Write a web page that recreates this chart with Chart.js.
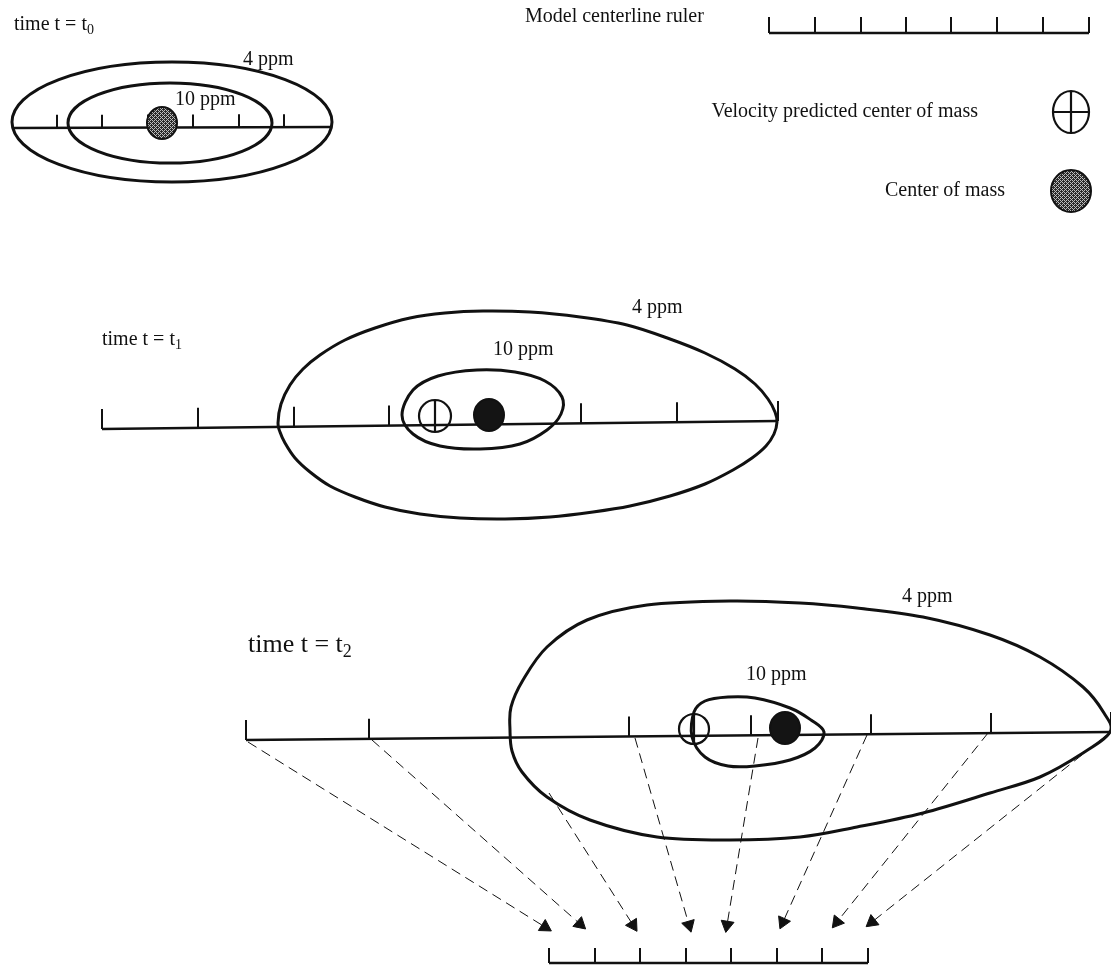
<!DOCTYPE html>
<html>
<head>
<meta charset="utf-8">
<title>Plume centerline and center of mass</title>
<script src="https://cdn.jsdelivr.net/npm/chart.js@4.4.1/dist/chart.umd.min.js"></script>
<style>
  html, body { margin: 0; padding: 0; background: #fff; }
  canvas { display: block; }
</style>
</head>
<body>
<canvas id="plume" width="1111" height="965"></canvas>
<script>
// ---- data (drawing units, y grows downward) ----

// centerline rulers: end points and tick positions along x
const legendLine = [[769, 33], [1089, 33]];
const legendTicks = [769, 815, 861, 906, 951, 997, 1043, 1089];
const t0Line = [[12, 128], [332, 127]];
const t0Ticks = [57, 102, 148, 193, 239, 284];
const t1Line = [[102, 429], [778, 421]];
const t1Ticks = [102, 198, 294, 389, 485, 581, 677, 778];
const t2Line = [[246, 740], [1111, 732]];
const t2Ticks = [246, 369, 510, 629, 751, 871, 991, 1111];
const baseLine = [[549, 963], [868, 963]];
const baseTicks = [549, 595, 640, 686, 731, 777, 822, 868];

// concentration contours
const t0Outer = { cx: 172, cy: 122, rx: 160, ry: 60 };
const t0Inner = { cx: 170, cy: 123, rx: 102, ry: 40 };
const t1Outer = [[278, 423], [281, 404], [290, 385], [303, 369], [320, 355], [345, 340],
  [375, 328], [410, 318], [445, 313], [483, 311], [530, 312], [580, 317], [627, 325],
  [670, 339], [705, 353], [735, 369], [755, 384], [768, 399], [775, 412], [777, 422],
  [774, 434], [766, 446], [752, 458], [733, 470], [705, 484], [670, 496], [630, 506],
  [593, 512], [550, 517], [505, 519], [460, 518], [420, 514], [385, 507], [355, 497],
  [330, 486], [310, 472], [295, 458], [285, 443], [280, 432]];
const t1Inner = [[402, 415], [413, 390], [438, 376], [477, 370], [515, 372], [545, 381],
  [562, 397], [561, 414], [547, 430], [520, 444], [480, 449], [440, 446], [413, 434]];
const t2Outer = [[510, 730], [511, 707], [523, 680], [547, 647], [587, 620], [647, 605],
  [730, 601], [800, 603], [857, 608], [923, 617], [990, 635], [1040, 657], [1083, 687],
  [1104, 713], [1110, 732], [1083, 753], [1040, 777], [990, 793], [923, 813], [857, 827],
  [800, 837], [730, 840], [657, 837], [590, 820], [547, 797], [522, 772], [512, 751]];
const t2Inner = [[692, 737], [694, 712], [705, 701], [728, 697], [755, 698], [790, 708],
  [811, 720], [824, 732], [815, 748], [790, 760], [755, 766], [728, 766], [705, 757]];

// centers of mass (filled) and velocity predicted centers (crossed)
const massCenters = [[162, 123], [489, 415], [785, 728], [1071, 191]];
const predictedCenters = [[435, 416], [694, 729], [1071, 112]];

// mapping arrows from the t2 centerline down to the model ruler
const arrowFrom = [[248, 742], [372, 740], [549, 793], [635, 738], [758, 738], [867, 735], [988, 733], [1107, 735]];
const arrowTo = [[545, 927], [580, 924], [633, 925], [689, 925], [727, 925], [783, 922], [837, 922], [872, 922]];

// ---- styling ----
const INK = '#111';
const SERIF = '"Liberation Serif", "Times New Roman", serif';

function pt(p) { return { x: p[0], y: p[1] }; }

function lineY(line, x) {
  const [a, b] = line;
  return a[1] + (b[1] - a[1]) * (x - a[0]) / (b[0] - a[0]);
}

// vertical tick segments, separated by gaps
function tickSegments(line, ticks, h) {
  const out = [];
  ticks.forEach(t => {
    const y0 = lineY(line, t);
    out.push({ x: t, y: y0 }, { x: t, y: y0 - h }, { x: null, y: null });
  });
  return out;
}

const rulers = [
  [legendLine, legendTicks, 16],
  [t0Line, t0Ticks, 13],
  [t1Line, t1Ticks, 20],
  [t2Line, t2Ticks, 20],
  [baseLine, baseTicks, 15]
];

const datasets = [];
rulers.forEach(([line, ticks, h]) => {
  datasets.push({ data: line.map(pt), showLine: true, borderColor: INK, borderWidth: 2.5, pointRadius: 0 });
  datasets.push({ data: tickSegments(line, ticks, h), showLine: true, spanGaps: false, borderColor: INK, borderWidth: 2, pointRadius: 0 });
});

arrowFrom.forEach((a, i) => {
  const b = arrowTo[i];
  const rot = Math.atan2(b[0] - a[0], -(b[1] - a[1])) * 180 / Math.PI;
  datasets.push({
    data: [pt(a), pt(b)],
    showLine: true,
    borderColor: INK,
    borderWidth: 1,
    borderDash: [10, 6],
    pointRadius: [0, 7.5],
    pointStyle: 'triangle',
    pointRotation: rot,
    pointBackgroundColor: INK,
    pointBorderColor: INK,
    pointBorderWidth: 1
  });
});

function closedSpline(ctx, p) {
  const n = p.length;
  ctx.beginPath();
  ctx.moveTo(p[0][0], p[0][1]);
  for (let i = 0; i < n; i++) {
    const p0 = p[(i - 1 + n) % n], p1 = p[i], p2 = p[(i + 1) % n], p3 = p[(i + 2) % n];
    ctx.bezierCurveTo(
      p1[0] + (p2[0] - p0[0]) / 6, p1[1] + (p2[1] - p0[1]) / 6,
      p2[0] - (p3[0] - p1[0]) / 6, p2[1] - (p3[1] - p1[1]) / 6,
      p2[0], p2[1]);
  }
  ctx.closePath();
  ctx.stroke();
}

function speckle(ctx) {
  const c = document.createElement('canvas');
  c.width = 4; c.height = 4;
  const g = c.getContext('2d');
  g.fillStyle = '#2a2a2a';
  g.fillRect(0, 0, 4, 4);
  g.fillStyle = '#bdbdbd';
  [[0, 0], [1, 1], [2, 2], [3, 3], [2, 0], [0, 2]].forEach(([i, j]) => g.fillRect(i, j, 1, 1));
  return ctx.createPattern(c, 'repeat');
}

function timeLabel(ctx, x, y, size, sub) {
  ctx.font = size + 'px ' + SERIF;
  ctx.textAlign = 'left';
  ctx.textBaseline = 'middle';
  const main = 'time t = t';
  ctx.fillText(main, x, y);
  const w = ctx.measureText(main).width;
  ctx.font = Math.round(size * 0.7) + 'px ' + SERIF;
  ctx.fillText(sub, x + w, y + size * 0.28);
}

const drawings = {
  id: 'drawings',
  afterDatasetsDraw(chart) {
    const { ctx, scales: { x, y } } = chart;
    const px = v => x.getPixelForValue(v);
    const py = v => y.getPixelForValue(v);
    const rx = (c, r) => Math.abs(px(c + r) - px(c));
    const ry = (c, r) => Math.abs(py(c + r) - py(c));
    ctx.save();
    ctx.strokeStyle = INK;
    ctx.fillStyle = INK;
    ctx.lineJoin = 'round';

    // contours
    ctx.lineWidth = 3;
    [t0Outer, t0Inner].forEach(e => {
      ctx.beginPath();
      ctx.ellipse(px(e.cx), py(e.cy), rx(e.cx, e.rx), ry(e.cy, e.ry), 0, 0, Math.PI * 2);
      ctx.stroke();
    });
    [t1Outer, t1Inner, t2Outer, t2Inner].forEach(c => closedSpline(ctx, c.map(p => [px(p[0]), py(p[1])])));

    // centers of mass: gray in the first snapshot and legend, black otherwise
    const gray = speckle(ctx);
    const massR = [16, 16, 16, 21];
    massCenters.forEach((c, i) => {
      ctx.beginPath();
      ctx.ellipse(px(c[0]), py(c[1]), rx(c[0], massR[i] - 1), ry(c[1], massR[i]), 0, 0, Math.PI * 2);
      ctx.fillStyle = (i === 0 || i === 3) ? gray : '#141414';
      ctx.fill();
      ctx.lineWidth = 2;
      ctx.stroke();
    });

    // velocity predicted centers
    const predR = [[16, 16], [15, 15], [18, 21]];
    ctx.lineWidth = 2.2;
    predictedCenters.forEach((c, i) => {
      const cx = px(c[0]), cy = py(c[1]);
      const a = rx(c[0], predR[i][0]), b = ry(c[1], predR[i][1]);
      ctx.beginPath();
      ctx.ellipse(cx, cy, a, b, 0, 0, Math.PI * 2);
      ctx.moveTo(cx, cy - b);
      ctx.lineTo(cx, cy + b);
      if (i === 2) { ctx.moveTo(cx - a, cy); ctx.lineTo(cx + a, cy); }
      ctx.stroke();
    });

    // text
    ctx.fillStyle = INK;
    ctx.textBaseline = 'middle';
    ctx.font = '20px ' + SERIF;
    ctx.textAlign = 'left';
    ctx.fillText('Model centerline ruler', px(525), py(17));
    ctx.textAlign = 'right';
    ctx.fillText('Velocity predicted center of mass', px(978), py(112));
    ctx.fillText('Center of mass', px(1005), py(191));
    ctx.textAlign = 'left';
    [[243, 60, '4 ppm'], [175, 100, '10 ppm'],
     [632, 308, '4 ppm'], [493, 350, '10 ppm'],
     [902, 597, '4 ppm'], [746, 675, '10 ppm']].forEach(([lx, ly, s]) => ctx.fillText(s, px(lx), py(ly)));

    timeLabel(ctx, px(14), py(25), 20, '0');
    timeLabel(ctx, px(102), py(340), 20, '1');
    timeLabel(ctx, px(248), py(645), 26, '2');
    ctx.restore();
  }
};

new Chart(document.getElementById('plume'), {
  type: 'scatter',
  data: { datasets },
  options: {
    responsive: false,
    animation: false,
    layout: { padding: 0, autoPadding: false },
    plugins: { legend: { display: false }, tooltip: { enabled: false } },
    scales: {
      x: { type: 'linear', min: 0, max: 1111, display: false },
      y: { type: 'linear', min: 0, max: 965, reverse: true, display: false }
    }
  },
  plugins: [drawings]
});
</script>
</body>
</html>
